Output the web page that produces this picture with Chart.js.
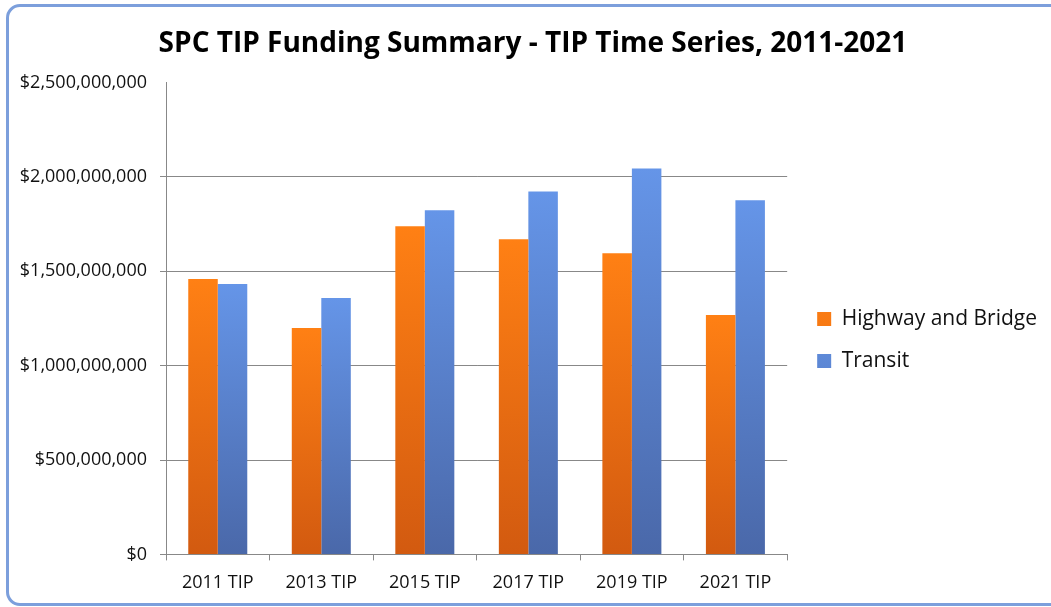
<!DOCTYPE html>
<html>
<head>
<meta charset="utf-8">
<script src="https://cdn.jsdelivr.net/npm/chart.js@4"></script>
<style>
  html, body { margin:0; padding:0; background:#fff; }
  #wrap { position:relative; width:1051px; height:607px; overflow:hidden; }
  #frame {
    position:absolute; left:6px; top:4px; width:1100px; height:596px;
    border:3px solid #7c9fdc; border-radius:14px; pointer-events:none;
  }
</style>
</head>
<body>
<div id="wrap">
  <div id="frame"></div>
  <canvas id="chart"></canvas>
</div>
<script>
const categories = ['2011 TIP','2013 TIP','2015 TIP','2017 TIP','2019 TIP','2021 TIP'];
const highwayBridge = [1459e6, 1200e6, 1739e6, 1670e6, 1596e6, 1269e6];
const transit = [1433e6, 1359e6, 1823e6, 1923e6, 2045e6, 1876e6];
const yTicks = [0, 500e6, 1000e6, 1500e6, 2000e6, 2500e6];

const FONT = "'Open Sans', sans-serif";

function fmtMoney(v){ return '$' + Number(v).toLocaleString('en-US'); }

// per-bar vertical gradient, bright at the top, darker at the base
function barFill(top, bottom, flat){
  return (ctx)=>{
    if (ctx.type !== 'data' || !ctx.chart.chartArea) return flat;
    const y = ctx.chart.scales.y;
    const y0 = y.getPixelForValue(ctx.raw);
    const y1 = y.getPixelForValue(0);
    const g = ctx.chart.ctx.createLinearGradient(0, y0, 0, y1);
    g.addColorStop(0, top);
    g.addColorStop(1, bottom);
    return g;
  };
}

new Chart(document.getElementById('chart'), {
  type: 'bar',
  data: {
    labels: categories,
    datasets: [
      { label: 'Highway and Bridge', data: highwayBridge,
        backgroundColor: barFill('#ff8014', '#d25a10', '#e8701a') },
      { label: 'Transit', data: transit,
        backgroundColor: barFill('#6595e8', '#4a68a9', '#5a80cc') }
    ]
  },
  options: {
    responsive: true,
    maintainAspectRatio: false,
    animation: false,
    layout: { padding: { left: 19, right: 4, top: 0, bottom: 1 } },
    datasets: { bar: { categoryPercentage: 0.57, barPercentage: 1.0 } },
    scales: {
      x: {
        grid: { display: true, drawOnChartArea: false, drawTicks: true, tickLength: 6, color: '#888', offset: true },
        border: { color: '#888' },
        ticks: { color: '#111', font: { family: FONT, size: 18 }, padding: 12 }
      },
      y: {
        min: 0, max: 2500e6,
        afterBuildTicks: (s)=>{ s.ticks = yTicks.map(v=>({ value: v })); },
        afterFit: (s)=>{ s.width = 147; },
        grid: {
          color: (c)=> c.tick && c.tick.value === 2500e6 ? 'rgba(0,0,0,0)' : '#888',
          tickLength: 6
        },
        border: { color: '#888' },
        ticks: { color: '#111', font: { family: FONT, size: 18 }, padding: 13,
          callback: (v)=> fmtMoney(v) }
      },
      // empty gap between the plot and the legend
      gap: {
        type: 'linear', position: 'right', display: true,
        grid: { display: false }, border: { display: false }, ticks: { display: false },
        afterFit: (s)=>{ s.width = 9; }
      }
    },
    plugins: {
      title: {
        display: true,
        text: 'SPC TIP Funding Summary - TIP Time Series, 2011-2021',
        color: '#000',
        font: { family: FONT, size: 28, weight: 'bold' },
        padding: { top: 27, bottom: 22 }
      },
      legend: {
        position: 'right',
        maxWidth: 300,
        title: { display: true, text: '', font: { size: 10 }, padding: 31 },
        labels: { color: '#111', font: { family: FONT, size: 21 },
          boxWidth: 14, boxHeight: 14, padding: 21 }
      },
      tooltip: { enabled: false }
    }
  }
});
</script>
</body>
</html>
